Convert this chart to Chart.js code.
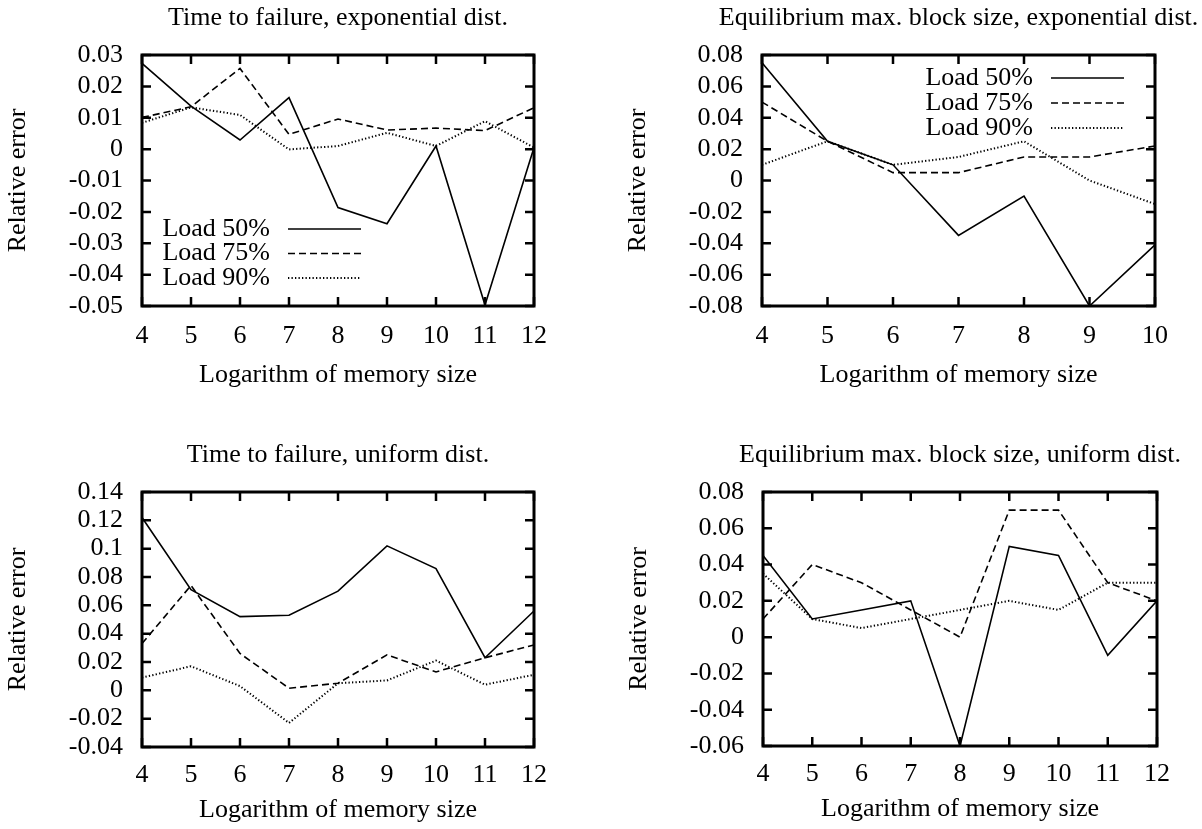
<!DOCTYPE html>
<html>
<head>
<meta charset="utf-8">
<title>Relative error vs logarithm of memory size</title>
<script src="https://cdn.jsdelivr.net/npm/chart.js@4.4.1/dist/chart.umd.min.js"></script>
<style>
  body { margin: 0; background: #fff; }
  #wrap { position: relative; width: 1202px; height: 829px; background: #fff; }
  #wrap canvas { position: absolute; left: 0; top: 0; }
</style>
</head>
<body>
<div id="wrap">
  <canvas id="ttf-exp" width="1202" height="829"></canvas>
  <canvas id="eq-exp" width="1202" height="829"></canvas>
  <canvas id="ttf-uni" width="1202" height="829"></canvas>
  <canvas id="eq-uni" width="1202" height="829"></canvas>
</div>
<script>
// x values (logarithm of memory size)
const logSizes = [4, 5, 6, 7, 8, 9, 10, 11, 12];
const logSizesShort = [4, 5, 6, 7, 8, 9, 10];
const seriesNames = ["Load 50%", "Load 75%", "Load 90%"];

// Time to failure, exponential dist.
const ttfExp50 = [0.0273, 0.0137, 0.0029, 0.0164, -0.0186, -0.0238, 0.0010, -0.0497, 0.0005];
const ttfExp75 = [0.0101, 0.0135, 0.0257, 0.0047, 0.0096, 0.0061, 0.0067, 0.0059, 0.0132];
const ttfExp90 = [0.0084, 0.0133, 0.0109, -0.0001, 0.0010, 0.0052, 0.0010, 0.0089, 0.0005];

// Equilibrium max. block size, exponential dist.
const eqExp50 = [0.075, 0.025, 0.010, -0.035, -0.010, -0.080, -0.041];
const eqExp75 = [0.050, 0.025, 0.005, 0.005, 0.015, 0.015, 0.022];
const eqExp90 = [0.010, 0.025, 0.010, 0.015, 0.025, 0.000, -0.015];

// Time to failure, uniform dist.
const ttfUni50 = [0.122, 0.071, 0.052, 0.053, 0.070, 0.102, 0.086, 0.023, 0.056];
const ttfUni75 = [0.033, 0.074, 0.026, 0.0015, 0.005, 0.025, 0.013, 0.023, 0.032];
const ttfUni90 = [0.009, 0.017, 0.003, -0.023, 0.005, 0.007, 0.021, 0.004, 0.011];

// Equilibrium max. block size, uniform dist.
const eqUni50 = [0.045, 0.010, 0.015, 0.020, -0.060, 0.050, 0.045, -0.010, 0.020];
const eqUni75 = [0.010, 0.040, 0.030, 0.015, 0.000, 0.070, 0.070, 0.030, 0.020];
const eqUni90 = [0.035, 0.010, 0.005, 0.010, 0.015, 0.020, 0.015, 0.030, 0.030];

const PAGE_W = 1202;
const PAGE_H = 829;
const Y_AXIS_W = 142;
const FONT_FAMILY = "'Liberation Serif', 'DejaVu Serif', serif";
const FONT_SIZE = 26;

const lineDashes = [[], [7, 4], [1.3, 2.2]];
const lineWidths = [1.6, 1.6, 2];

Chart.defaults.font.family = FONT_FAMILY;
Chart.defaults.font.size = FONT_SIZE;
Chart.defaults.color = "#000";

// panel title, centred over the plot box
const panelTitle = {
  id: "panelTitle",
  afterDraw(chart, args, opts) {
    const { ctx, chartArea } = chart;
    ctx.save();
    ctx.font = FONT_SIZE + "px " + FONT_FAMILY;
    ctx.fillStyle = "#000";
    ctx.textAlign = "center";
    ctx.textBaseline = "alphabetic";
    ctx.fillText(opts.text, (chartArea.left + chartArea.right) / 2, chartArea.top - 30);
    ctx.restore();
  },
};

// thick border with inward ticks on all four sides (gnuplot look)
const frameTicks = {
  id: "frameTicks",
  afterDatasetsDraw(chart) {
    const { ctx, chartArea, scales } = chart;
    const { left, right, top, bottom } = chartArea;
    const len = 9;
    ctx.save();
    ctx.strokeStyle = "#000";
    ctx.lineWidth = 2.5;
    ctx.beginPath();
    scales.x.ticks.forEach((t) => {
      const px = scales.x.getPixelForValue(t.value);
      ctx.moveTo(px, bottom);
      ctx.lineTo(px, bottom - len);
      ctx.moveTo(px, top);
      ctx.lineTo(px, top + len);
    });
    scales.y.ticks.forEach((t) => {
      const py = scales.y.getPixelForValue(t.value);
      ctx.moveTo(left, py);
      ctx.lineTo(left + len, py);
      ctx.moveTo(right, py);
      ctx.lineTo(right - len, py);
    });
    ctx.stroke();
    ctx.lineWidth = 3;
    ctx.strokeRect(left, top, right - left, bottom - top);
    ctx.restore();
  },
};

// key inside the plot: label text, then a line sample on its right
const insideLegend = {
  id: "insideLegend",
  afterDatasetsDraw(chart, args, opts) {
    const ctx = chart.ctx;
    ctx.save();
    ctx.font = FONT_SIZE + "px " + FONT_FAMILY;
    ctx.fillStyle = "#000";
    ctx.textAlign = "right";
    ctx.textBaseline = "middle";
    chart.data.datasets.forEach((ds, i) => {
      const y = opts.top + i * opts.rowGap;
      ctx.fillText(ds.label, opts.right, y);
      ctx.beginPath();
      ctx.setLineDash(ds.borderDash);
      ctx.lineWidth = ds.borderWidth;
      ctx.strokeStyle = ds.borderColor;
      ctx.moveTo(opts.right + 18, y);
      ctx.lineTo(opts.right + 18 + 73, y);
      ctx.stroke();
    });
    ctx.restore();
  },
};

function formatTick(value) {
  return String(Number(value.toFixed(3)));
}

function makePanel(canvasId, panel) {
  const datasets = seriesNames.map((name, i) => ({
    label: name,
    data: panel.xs.map((x, j) => ({ x: x, y: panel.series[i][j] })),
    borderColor: "#000",
    borderWidth: lineWidths[i],
    borderDash: lineDashes[i],
    pointRadius: 0,
    tension: 0,
    fill: false,
  }));

  return new Chart(document.getElementById(canvasId), {
    type: "line",
    data: { datasets },
    options: {
      responsive: false,
      animation: false,
      events: [],
      layout: {
        padding: {
          left: panel.area.left - Y_AXIS_W,
          top: panel.area.top,
          right: PAGE_W - panel.area.right,
          bottom: PAGE_H - panel.area.bottom - panel.xAxisH,
        },
      },
      scales: {
        x: {
          type: "linear",
          min: panel.xs[0],
          max: panel.xs[panel.xs.length - 1],
          grid: { display: false, drawTicks: false },
          border: { display: false },
          ticks: { stepSize: 1, padding: panel.xTickPad, maxRotation: 0, autoSkip: false },
          title: { display: true, text: "Logarithm of memory size", padding: { top: 0, bottom: 0 } },
          afterFit: (scale) => { scale.height = panel.xAxisH; },
        },
        y: {
          min: panel.yMin,
          max: panel.yMax,
          grid: { display: false, drawTicks: false },
          border: { display: false },
          ticks: { stepSize: panel.yStep, padding: 19, autoSkip: false, callback: formatTick },
          title: { display: true, text: "Relative error", padding: { top: 2.4, bottom: 0 } },
          afterFit: (scale) => { scale.width = Y_AXIS_W; },
        },
      },
      plugins: {
        legend: { display: false },
        tooltip: { enabled: false },
        panelTitle: { text: panel.title },
        insideLegend: panel.legend || false,
      },
    },
    plugins: [panelTitle, frameTicks, insideLegend],
  });
}

makePanel("ttf-exp", {
  title: "Time to failure, exponential dist.",
  xs: logSizes,
  series: [ttfExp50, ttfExp75, ttfExp90],
  yMin: -0.05, yMax: 0.03, yStep: 0.01,
  area: { left: 142, right: 534, top: 55, bottom: 306 },
  xAxisH: 85, xTickPad: 15,
  legend: { right: 270, top: 229, rowGap: 24.5 },
});

makePanel("eq-exp", {
  title: "Equilibrium max. block size, exponential dist.",
  xs: logSizesShort,
  series: [eqExp50, eqExp75, eqExp90],
  yMin: -0.08, yMax: 0.08, yStep: 0.02,
  area: { left: 762, right: 1155, top: 55, bottom: 306 },
  xAxisH: 85, xTickPad: 15,
  legend: { right: 1033, top: 78, rowGap: 25 },
});

makePanel("ttf-uni", {
  title: "Time to failure, uniform dist.",
  xs: logSizes,
  series: [ttfUni50, ttfUni75, ttfUni90],
  yMin: -0.04, yMax: 0.14, yStep: 0.02,
  area: { left: 142, right: 534, top: 492, bottom: 747 },
  xAxisH: 79, xTickPad: 13,
});

makePanel("eq-uni", {
  title: "Equilibrium max. block size, uniform dist.",
  xs: logSizes,
  series: [eqUni50, eqUni75, eqUni90],
  yMin: -0.06, yMax: 0.08, yStep: 0.02,
  area: { left: 763, right: 1157, top: 492, bottom: 746 },
  xAxisH: 79, xTickPad: 13,
});
</script>
</body>
</html>
